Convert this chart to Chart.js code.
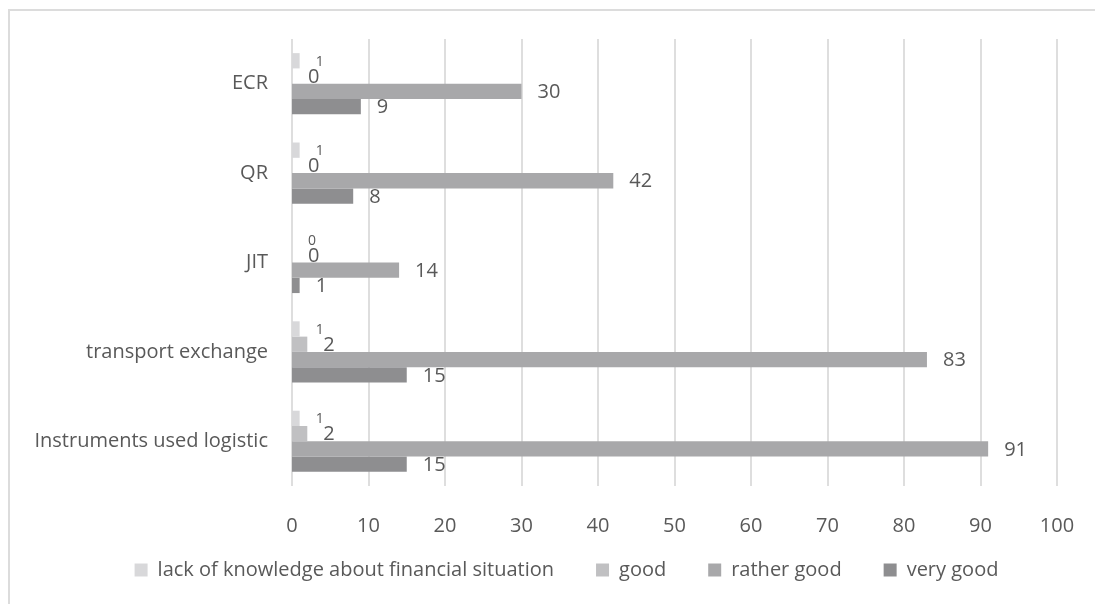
<!DOCTYPE html>
<html>
<head>
<meta charset="utf-8">
<script src="https://cdn.jsdelivr.net/npm/chart.js@4.4.1/dist/chart.umd.min.js"></script>
<style>
  html, body { margin: 0; padding: 0; background: #fff; overflow: hidden; }
  #wrap { position: relative; width: 1095px; height: 604px; }
</style>
</head>
<body>
<div id="wrap"><canvas id="chart" width="1095" height="604"></canvas></div>
<script>
// categories listed top to bottom
const categories = ['ECR', 'QR', 'JIT', 'transport exchange', 'Instruments used logistic']

const lackOfKnowledge = [1, 1, 0, 1, 1]
const good = [0, 0, 0, 2, 2]
const ratherGood = [30, 42, 14, 83, 91]
const veryGood = [9, 8, 1, 15, 15]

const seriesNames = ['lack of knowledge about financial situation', 'good', 'rather good', 'very good']
const xTicks = [0, 10, 20, 30, 40, 50, 60, 70, 80, 90, 100]

const TEXT = '#595959'
const FONT = 'Open Sans'
const GRID = '#dedede'
const LEGEND_SHIFT_X = 38
const LEGEND_SHIFT_Y = -14

// value labels to the right of each bar end
const barLabels = {
  id: 'barLabels',
  afterDatasetsDraw(chart) {
    const ctx = chart.ctx
    ctx.save()
    ctx.fillStyle = TEXT
    ctx.textAlign = 'left'
    ctx.textBaseline = 'middle'
    chart.data.datasets.forEach((ds, di) => {
      const meta = chart.getDatasetMeta(di)
      const small = di === 0
      ctx.font = (small ? 14 : 20) + 'px "' + FONT + '"'
      meta.data.forEach((bar, i) => {
        ctx.fillText(String(ds.data[i]), bar.x + 16, bar.y + 1)
      })
    })
    ctx.restore()
  }
}

// vertical gridlines kept strictly inside the plot area
const gridLines = {
  id: 'gridLines',
  beforeDatasetsDraw(chart) {
    const { ctx, chartArea, scales } = chart
    ctx.save()
    ctx.strokeStyle = GRID
    ctx.lineWidth = 2
    xTicks.forEach(v => {
      const x = Math.round(scales.x.getPixelForValue(v))
      ctx.beginPath()
      ctx.moveTo(x, chartArea.top)
      ctx.lineTo(x, chartArea.bottom)
      ctx.stroke()
    })
    ctx.restore()
  }
}

// light outer frame (top and left edges) + legend placement
const frame = {
  id: 'frame',
  afterLayout(chart) {
    const lg = chart.legend
    lg.left += LEGEND_SHIFT_X
    lg.right += LEGEND_SHIFT_X
    lg.top += LEGEND_SHIFT_Y
    lg.bottom += LEGEND_SHIFT_Y
  },
  beforeDraw(chart) {
    const ctx = chart.ctx
    ctx.save()
    ctx.fillStyle = '#dcdcdc'
    ctx.fillRect(8, 9, chart.width - 8, 2)
    ctx.fillRect(8, 9, 2, chart.height - 9)
    ctx.restore()
  }
}

new Chart(document.getElementById('chart'), {
  type: 'bar',
  data: {
    labels: categories,
    datasets: [
      { label: seriesNames[0], data: lackOfKnowledge, backgroundColor: '#d8d8da' },
      { label: seriesNames[1], data: good, backgroundColor: '#c0c0c2' },
      { label: seriesNames[2], data: ratherGood, backgroundColor: '#a8a8aa' },
      { label: seriesNames[3], data: veryGood, backgroundColor: '#8e8e90' }
    ]
  },
  options: {
    indexAxis: 'y',
    responsive: false,
    animation: false,
    categoryPercentage: 0.684,
    barPercentage: 1,
    layout: { padding: { top: 39, right: 38, left: 0, bottom: 0 } },
    plugins: {
      legend: {
        position: 'bottom',
        labels: {
          boxWidth: 13,
          boxHeight: 13,
          padding: 42,
          color: TEXT,
          font: { family: FONT, size: 20 }
        }
      },
      tooltip: { enabled: false }
    },
    scales: {
      x: {
        min: 0,
        max: 100,
        afterBuildTicks(scale) {
          scale.ticks = xTicks.map(v => ({ value: v }))
        },
        afterFit(scale) { scale.height = 46 },
        grid: { display: false },
        border: { display: false },
        ticks: { color: TEXT, padding: 20, font: { family: FONT, size: 20 } }
      },
      y: {
        afterFit(scale) { scale.width = 292 },
        grid: { display: false, drawTicks: false },
        border: { display: false },
        ticks: { color: TEXT, padding: 24, font: { family: FONT, size: 20 } }
      }
    }
  },
  plugins: [gridLines, barLabels, frame]
})
</script>
</body>
</html>
